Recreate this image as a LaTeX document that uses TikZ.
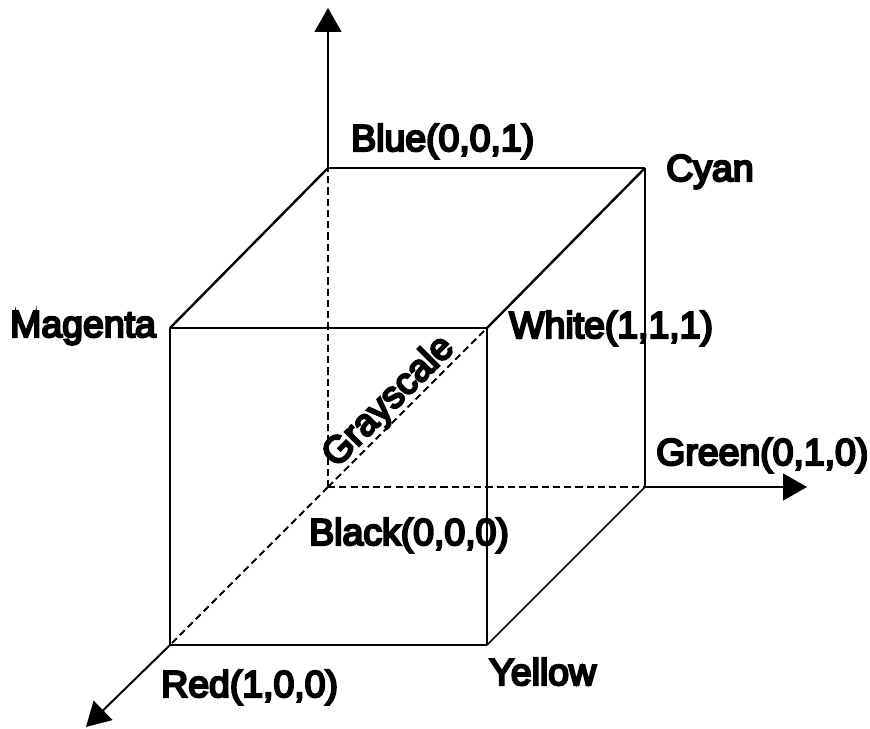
\documentclass[tikz,border=0pt]{standalone}
\usepackage{fontspec}
\setmainfont{Liberation Sans}
\newfontfamily\lblfont{Liberation Sans}[FakeBold=6]
\usetikzlibrary{arrows.meta,calc}
\begin{document}
\begin{tikzpicture}[x=0.025cm,y=-0.025cm,
  edge/.style={line width=1.2pt},
  diag/.style={line width=1.7pt},
  hidden/.style={line width=1.3pt, dash pattern=on 5pt off 3pt},
  axis/.style={line width=1.4pt, -{Triangle[width=19pt,length=17pt]}},
  lbl/.style={font=\lblfont\fontsize{26.6}{32}\selectfont, inner sep=0pt, anchor=base west}]
\useasboundingbox (0,0) rectangle (870,729);
\coordinate (K) at (328,487);
\coordinate (B) at (328,168);
\coordinate (C) at (645,168);
\coordinate (G) at (645,487);
\coordinate (M) at (170,328);
\coordinate (W) at (487,328);
\coordinate (R) at (170,645);
\coordinate (Y) at (487,645);
\coordinate (zt) at (328,8);
\coordinate (gt) at (807,487);
\coordinate (rt) at (86,727);
% hidden edges
\draw[hidden] (K) -- (B);
\draw[hidden] (K) -- (G);
\draw[hidden] (K) -- (R);
\draw[hidden] (K) -- (W);
% visible edges
\draw[edge] (M) -- (W);
\draw[edge] (W) -- (Y);
\draw[edge] (Y) -- (R);
\draw[edge] (R) -- (M);
\draw[edge] (B) -- (C);
\draw[edge] (C) -- (G);
\draw[diag] (M) -- (B);
\draw[diag] (W) -- (C);
\draw[edge] (Y) -- (G);
% axes
\draw[axis] (B) -- (zt);
\draw[axis] (G) -- (gt);
\draw[axis] (R) -- (rt);
% labels
\node[lbl] (lblue) at (351,151) {Blue(0,0,1)};
\node[lbl] (lcyan) at (666,181) {Cyan};
\node[lbl] (lmag) at (10,337) {Magenta};
\node[lbl] (lwhite) at (509,338) {White(1,1,1)};
\node[lbl] (lgreen) at (656,465) {Green(0,1,0)};
\node[lbl] (lblack) at (309,545) {Black(0,0,0)};
\node[lbl] (lred) at (161,697) {Red(1,0,0)};
\node[lbl] (lyellow) at (489,685) {Yellow};
\coordinate (gmid) at ($(K)!0.46!(W)$);
\node[lbl, anchor=base, rotate=45] (lgray) at ($(gmid)+(-5,-5)$) {Grayscale};
\end{tikzpicture}
\end{document}
